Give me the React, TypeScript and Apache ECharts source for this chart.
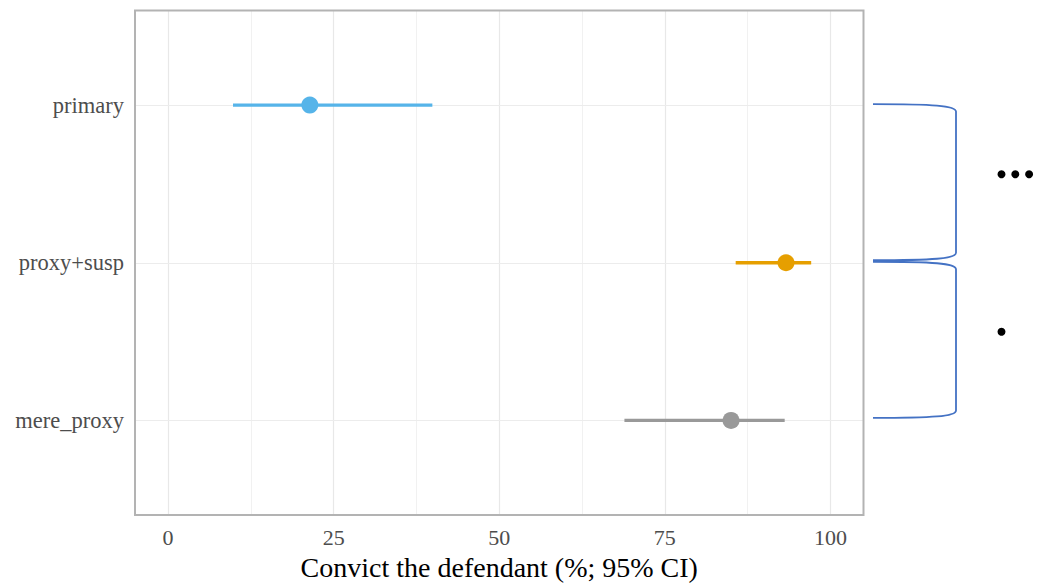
import React, { useEffect, useRef } from "react";
import * as echarts from "echarts";

const categories = ["primary", "proxy+susp", "mere_proxy"];
const estimates = [21.4, 93.3, 85.0];
const lowerCI = [9.8, 85.7, 68.9];
const upperCI = [39.9, 97.1, 93.1];
const pointColors = ["#56B4E9", "#E69F00", "#999999"];

const xTicks = [0, 25, 50, 75, 100];
const xMinorTicks = [12.5, 37.5, 62.5, 87.5];
const xTitle = "Convict the defendant (%; 95% CI)";

// brackets between category positions (1-based) and the number of significance dots
const bracketFrom = [1, 2];
const bracketTo = [2, 3];
const bracketDots = [3, 1];

const SERIF = '"Liberation Serif", "Times New Roman", Times, serif';

export default function App() {
  const ref = useRef<HTMLDivElement>(null);

  useEffect(() => {
    if (!ref.current) return;
    const chart = echarts.init(ref.current, null, { renderer: "svg" });

    const catPos = categories.map((_, i) => i + 1);

    const gridMarkLines = [
      ...xMinorTicks.map((v) => ({ xAxis: v, lineStyle: { color: "#f1f1f1", width: 1, type: "solid" } })),
      ...xTicks.map((v) => ({ xAxis: v, lineStyle: { color: "#e8e8e8", width: 1.2, type: "solid" } })),
      ...catPos.map((v) => ({ yAxis: v, lineStyle: { color: "#ececec", width: 1.2, type: "solid" } })),
    ];

    const option: any = {
      animation: false,
      backgroundColor: "#ffffff",
      grid: {
        left: 135,
        right: 173.5,
        top: 10.5,
        bottom: 73,
        show: true,
        borderColor: "#b3b3b3",
        borderWidth: 2,
        backgroundColor: "transparent",
        z: 10,
      },
      xAxis: {
        type: "value",
        min: -5,
        max: 105,
        axisLine: { show: false },
        axisTick: { show: false },
        splitLine: { show: false },
        axisLabel: {
          customValues: xTicks,
          fontFamily: SERIF,
          fontSize: 22,
          color: "#4d4d4d",
          margin: 11,
        },
        name: xTitle,
        nameLocation: "middle",
        nameGap: 38,
        nameTextStyle: { fontFamily: SERIF, fontSize: 28, color: "#000000" },
      },
      yAxis: {
        type: "value",
        min: 0.4,
        max: 3.6,
        inverse: true,
        axisLine: { show: false },
        axisTick: { show: false },
        splitLine: { show: false },
        axisLabel: {
          customValues: catPos,
          formatter: (v: number) => categories[Math.round(v) - 1] ?? "",
          fontFamily: SERIF,
          fontSize: 22.5,
          color: "#4d4d4d",
          margin: 11,
        },
      },
      series: [
        {
          type: "scatter",
          data: [],
          z: 0,
          silent: true,
          markLine: {
            z: 0,
            silent: true,
            symbol: ["none", "none"],
            label: { show: false },
            data: gridMarkLines,
          },
        },
        {
          type: "custom",
          z: 6,
          silent: true,
          data: categories.map((_, i) => [lowerCI[i], upperCI[i], i + 1]),
          encode: { x: [0, 1], y: 2 },
          renderItem: (params: any, api: any) => {
            const idx = params.dataIndex;
            const p1 = api.coord([api.value(0), api.value(2)]);
            const p2 = api.coord([api.value(1), api.value(2)]);
            const h = 3.4;
            return {
              type: "rect",
              shape: { x: p1[0], y: p1[1] - h / 2, width: p2[0] - p1[0], height: h },
              style: { fill: pointColors[idx], stroke: null, lineWidth: 0 },
            };
          },
        },
        {
          type: "scatter",
          z: 7,
          symbol: "circle",
          symbolSize: 17,
          itemStyle: { opacity: 1 },
          data: categories.map((_, i) => ({
            value: [estimates[i], i + 1],
            itemStyle: { color: pointColors[i], opacity: 1 },
          })),
        },
        {
          type: "custom",
          z: 8,
          clip: false,
          silent: true,
          data: bracketFrom.map((a, i) => [50, a, bracketTo[i], bracketDots[i]]),
          encode: { x: 0, y: [1, 2] },
          renderItem: (params: any, api: any) => {
            const cs = params.coordSys;
            const yA = api.coord([0, api.value(1)])[1] - 1;
            const yB = api.coord([0, api.value(2)])[1] - 2.5;
            const n = api.value(3);
            const x0 = cs.x + cs.width + 9.5;
            const xr = x0 + 83;
            const children: any[] = [
              {
                type: "path",
                shape: {
                  pathData:
                    `M${x0},${yA} C${x0 + 60},${yA} ${xr},${yA + 1.5} ${xr},${yA + 7.5} ` +
                    `L${xr},${yB - 7.5} C${xr},${yB - 1.5} ${x0 + 60},${yB} ${x0},${yB}`,
                },
                style: { fill: "none", stroke: "#4472C4", lineWidth: 1.8 },
              },
            ];
            const yMid = (yA + yB) / 2 - 8;
            for (let k = 0; k < n; k++) {
              children.push({
                type: "circle",
                shape: { cx: xr + 45.5 + k * 13.8, cy: yMid, r: 4 },
                style: { fill: "#000000" },
              });
            }
            return { type: "group", children };
          },
        },
      ],
    };

    chart.setOption(option);
    return () => chart.dispose();
  }, []);

  return (
    <div
      ref={ref}
      style={{ position: "fixed", left: 0, top: 0, width: 1037, height: 588, background: "#fff" }}
    />
  );
}
